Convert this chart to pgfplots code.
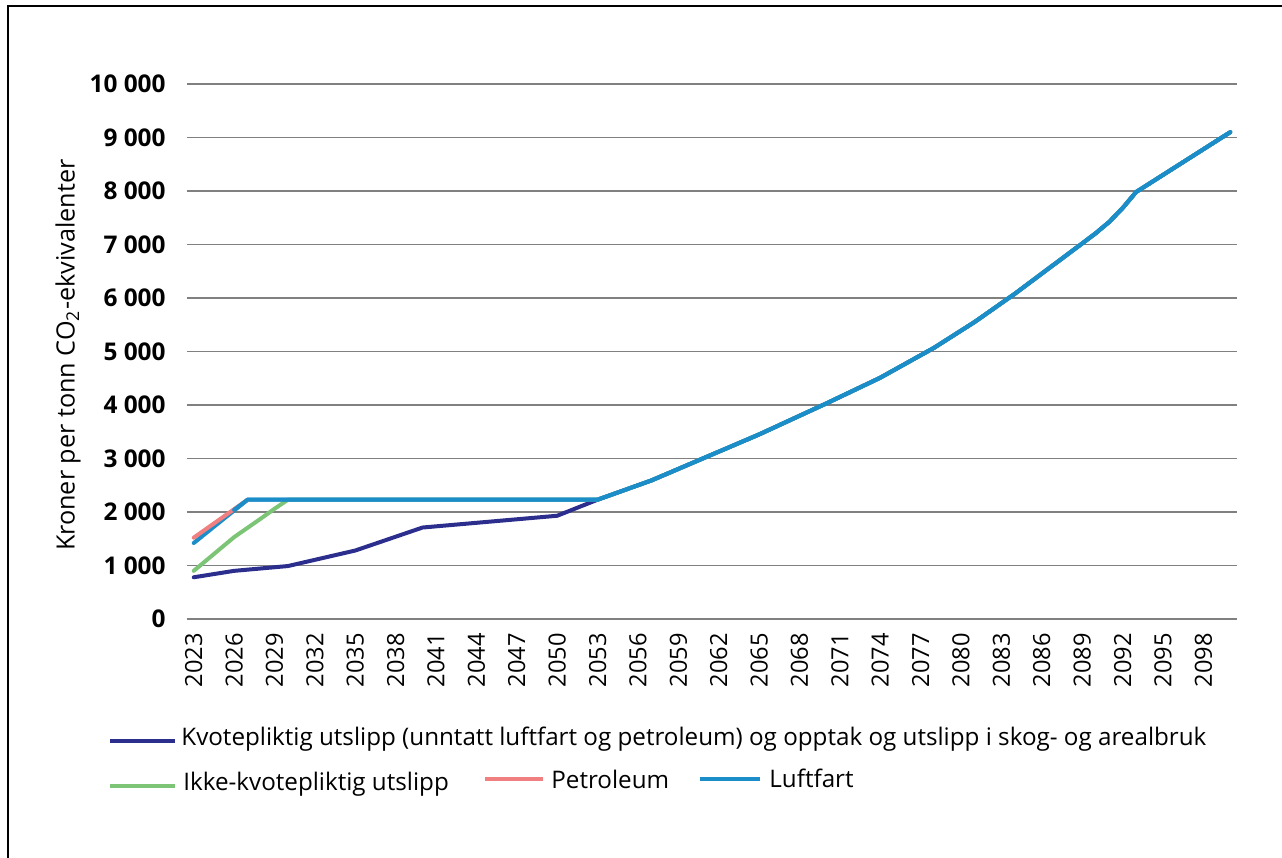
\documentclass[border=0pt]{standalone}
\usepackage{pgfplots}
\pgfplotsset{compat=1.18}
\usepackage{fontspec}
\setmainfont{Open Sans}
\definecolor{kvote}{HTML}{2B2E8C}
\definecolor{ikke}{HTML}{7CC576}
\definecolor{petro}{HTML}{F07F7F}
\definecolor{luft}{HTML}{1B8DC8}
\definecolor{gridc}{HTML}{808080}
\begin{document}
\begin{tikzpicture}
\begin{axis}[
  at={(93.5pt,-309.5pt)}, anchor=south west,
  scale only axis, width=525pt, height=267.5pt,
  xmin=2022.5, xmax=2100.5, ymin=0, ymax=10000,
  scaled y ticks=false, scaled x ticks=false,
  axis line style={draw=none},
  major tick length=0pt,
  ymajorgrids, major grid style={gridc, line width=0.8pt},
  ytick={0,1000,...,10000},
  yticklabels={{0},{1 000},{2 000},{3 000},{4 000},{5 000},{6 000},{7 000},{8 000},{9 000},{10 000}},
  xtick={2023,2026,...,2098},
  xticklabels={2023,2026,2029,2032,2035,2038,2041,2044,2047,2050,2053,2056,2059,2062,2065,2068,2071,2074,2077,2080,2083,2086,2089,2092,2095,2098},
  yticklabel style={font=\fontsize{12.2}{14}\selectfont\bfseries, anchor=east, inner xsep=10.5pt, inner ysep=0pt},
  xticklabel style={font=\fontsize{11.8}{13}\selectfont, rotate=90, anchor=east, inner xsep=7pt, inner ysep=0pt},
  ylabel={Kroner per tonn CO\textsubscript{2}-ekvivalenter},
  ylabel style={font=\fontsize{12.6}{14}\selectfont, at={(axis description cs:-0.1133,0.493)}, anchor=center, rotate=0},
  every axis plot/.append style={line width=2pt, line join=round, line cap=round},
]
\addplot[kvote] coordinates {(2023,780)(2026,900)(2030,990)(2035,1280)(2040,1710)(2050,1930)(2053,2230)
 (2057,2590)(2061,3020)(2065,3450)(2070,4030)(2074,4510)(2078,5070)(2081,5550)(2084,6080)(2089,7020)(2090,7210)(2091,7420)(2092,7680)(2093,7980)(2097,8620)(2100,9100)};
\addplot[ikke] coordinates {(2023,900)(2026,1530)(2028,1880)(2029,2060)(2030,2230)(2053,2230)
 (2057,2590)(2061,3020)(2065,3450)(2070,4030)(2074,4510)(2078,5070)(2081,5550)(2084,6080)(2089,7020)(2090,7210)(2091,7420)(2092,7680)(2093,7980)(2097,8620)(2100,9100)};
\addplot[luft] coordinates {(2023,1420)(2027,2230)(2053,2230)
 (2057,2590)(2061,3020)(2065,3450)(2070,4030)(2074,4510)(2078,5070)(2081,5550)(2084,6080)(2089,7020)(2090,7210)(2091,7420)(2092,7680)(2093,7980)(2097,8620)(2100,9100)};
\addplot[petro] coordinates {(2023,1520)(2027,2230)};
\addplot[luft] coordinates {(2026,2040)(2027,2230)(2053,2230)
 (2057,2590)(2061,3020)(2065,3450)(2070,4030)(2074,4510)(2078,5070)(2081,5550)(2084,6080)(2089,7020)(2090,7210)(2091,7420)(2092,7680)(2093,7980)(2097,8620)(2100,9100)};
\end{axis}
\begin{scope}[x=0.5pt, y=-0.5pt, every node/.style={font=\fontsize{12.1}{14}\selectfont, inner sep=0pt, anchor=west}]
\draw[kvote, line width=2pt] (110,741) -- (175,741);
\node at (181,739) {Kvotepliktig utslipp (unntatt luftfart og petroleum) og opptak og utslipp i skog- og arealbruk};
\draw[ikke, line width=2pt] (110,786) -- (175,786);
\node at (183,784) {Ikke-kvotepliktig utslipp};
\draw[petro, line width=2pt] (485,779) -- (543,779);
\node at (551,779) {Petroleum};
\draw[luft, line width=2pt] (700,779) -- (760,779);
\node at (769,778) {Luftfart};
\draw[line width=1.1pt] (8,6) rectangle (1400,1000);
\end{scope}
\pgfresetboundingbox
\useasboundingbox (0,0) rectangle (641pt,-429pt);
\end{tikzpicture}
\end{document}
